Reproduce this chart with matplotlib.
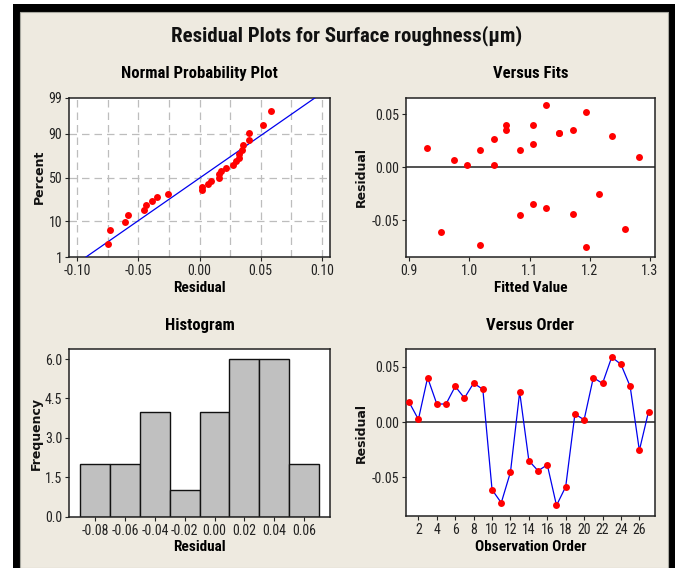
import numpy as np
import matplotlib
matplotlib.use("Agg")
import matplotlib.pyplot as plt
from matplotlib.patches import Rectangle
from matplotlib import font_manager
from statistics import NormalDist

# ---------------- data ----------------
residuals = [0.0178, 0.0024, 0.0401, 0.0163, 0.0163, 0.0322, 0.0217, 0.0352, 0.0295,
             -0.0611, -0.0729, -0.0452, 0.0271, -0.0349, -0.0440, -0.0386, -0.0753, -0.0584,
             0.0072, 0.0021, 0.0401, 0.0349, 0.0587, 0.0521, 0.0322, -0.0256, 0.0095]
fitted = [0.930, 0.996, 1.061, 1.018, 1.084, 1.149, 1.106, 1.061, 1.2375,
          0.953, 1.018, 1.084, 1.0405, 1.106, 1.172, 1.127, 1.193, 1.258,
          0.975, 1.0405, 1.106, 1.172, 1.127, 1.193, 1.149, 1.215, 1.281]
order = list(range(1, 28))
hist_edges = [-0.09, -0.07, -0.05, -0.03, -0.01, 0.01, 0.03, 0.05, 0.07]
npp_pct_ticks = [1, 10, 50, 90, 99]
npp_x_ticks = [-0.10, -0.05, 0.00, 0.05, 0.10]
hist_x_ticks = [-0.08, -0.06, -0.04, -0.02, 0.00, 0.02, 0.04, 0.06]
hist_y_ticks = [0.0, 1.5, 3.0, 4.5, 6.0]
fits_x_ticks = [0.9, 1.0, 1.1, 1.2, 1.3]
res_y_ticks = [-0.05, 0.00, 0.05]
order_x_ticks = list(range(2, 27, 2))

# ---------------- fonts ----------------
names = {f.name for f in font_manager.fontManager.ttflist}
scale = 1.0
if "Roboto Condensed" in names:
    FAM = ["Roboto Condensed", "DejaVu Sans"]
elif "Liberation Sans Narrow" in names:
    FAM = ["Liberation Sans Narrow", "DejaVu Sans"]
else:
    FAM = ["Liberation Sans", "DejaVu Sans"]
    scale = 0.92
plt.rcParams["font.family"] = FAM

W, H = 679, 568
fig = plt.figure(figsize=(W / 100, H / 100), dpi=100, facecolor="white")

def px_rect(l, t, r, b):
    return [l / W, 1 - b / H, (r - l) / W, (b - t) / H]

# frame
fig.patches.append(Rectangle((13 / W, 0), (675 - 13) / W, (568 - 4) / H,
                             transform=fig.transFigure, facecolor="black", edgecolor="none", zorder=-20))
fig.patches.append(Rectangle((20 / W, 0.5 / H), (668 - 20) / W, (567 - 11) / H,
                             transform=fig.transFigure, facecolor="#EEEAE0", edgecolor="#A8A8A0",
                             linewidth=0.8, zorder=-19))

fig.text(347 / W, 1 - 36 / H, "Residual Plots for Surface roughness(μm)",
         ha="center", va="center", fontsize=15 * scale, fontweight="bold", color="#111111")

TICK_FS = 10 * scale
LAB_FS = 11 * scale
TIT_FS = 12 * scale
YLAB_FS = 9

def style(ax):
    ax.set_facecolor("white")
    for s in ax.spines.values():
        s.set_linewidth(1.1)
        s.set_color("#222222")
    ax.tick_params(direction="out", length=3, width=0.8, labelsize=TICK_FS, colors="#222222", pad=2)

def ylab(text, x, y):
    fig.text(x / W, 1 - y / H, text, rotation=90, ha="center", va="center",
             fontsize=YLAB_FS, fontweight="bold", family=["DejaVu Sans"], color="#111111")

res = np.array(residuals)
n = len(res)
nd = NormalDist()

# ---------------- Normal probability plot ----------------
ax1 = fig.add_axes(px_rect(69.3, 97.7, 330, 257.3))
style(ax1)
zlo, zhi = nd.inv_cdf(0.01), nd.inv_cdf(0.99)
xs = np.sort(res)
zs = [nd.inv_cdf((i + 1 - 0.3) / (n + 0.4)) for i in range(n)]
mu, sd = res.mean(), res.std(ddof=1)
ax1.plot([mu + sd * zlo, mu + sd * zhi], [zlo, zhi], color="#0000EE", lw=0.9, zorder=3)
ax1.plot(xs, zs, "o", color="#FF0000", ms=5, mec="none", zorder=4)
ax1.set_ylim(zlo, zhi)
ax1.set_xlim(-0.1066, 0.1068)
ax1.set_xticks(npp_x_ticks)
ax1.set_xticklabels([f"{v:.2f}" for v in npp_x_ticks])
ax1.set_yticks([nd.inv_cdf(p / 100) for p in npp_pct_ticks])
ax1.set_yticklabels([str(p) for p in npp_pct_ticks])
for gx in np.arange(-0.10, 0.1001, 0.025):
    ax1.axvline(gx, color="#BDBDBD", lw=0.9, ls=(0, (6, 4)), zorder=1)
for p in [10, 50, 90]:
    ax1.axhline(nd.inv_cdf(p / 100), color="#BDBDBD", lw=0.9, ls=(0, (6, 4)), zorder=1)
ax1.set_title("Normal Probability Plot", fontsize=TIT_FS, fontweight="bold", pad=14)
ax1.set_xlabel("Residual", fontsize=LAB_FS, fontweight="bold", labelpad=2)
ylab("Percent", 39, 177)

# ---------------- Versus fits ----------------
ax2 = fig.add_axes(px_rect(405.7, 97.7, 655, 257.3))
style(ax2)
ax2.axhline(0, color="#333333", lw=1.2, zorder=1)
ax2.plot(fitted, residuals, "o", color="#FF0000", ms=5, mec="none", zorder=4)
ax2.set_xlim(0.8945, 1.3083)
ax2.set_ylim(-0.0849, 0.0657)
ax2.set_xticks(fits_x_ticks)
ax2.set_xticklabels([f"{v:.1f}" for v in fits_x_ticks])
ax2.set_yticks(res_y_ticks)
ax2.set_yticklabels([f"{v:.2f}" for v in res_y_ticks])
ax2.set_title("Versus Fits", fontsize=TIT_FS, fontweight="bold", pad=14)
ax2.set_xlabel("Fitted Value", fontsize=LAB_FS, fontweight="bold", labelpad=2)
ylab("Residual", 361, 177)

# ---------------- Histogram ----------------
ax3 = fig.add_axes(px_rect(69.3, 349.3, 330, 516.7))
style(ax3)
ax3.hist(res, bins=hist_edges, color="#C0C0C0", edgecolor="#111111", linewidth=1.0, zorder=2)
ax3.set_xlim(-0.0974, 0.0774)
ax3.set_ylim(0, 6.37)
ax3.set_xticks(hist_x_ticks)
ax3.set_xticklabels([f"{v:.2f}" for v in hist_x_ticks])
ax3.set_yticks(hist_y_ticks)
ax3.set_yticklabels([f"{v:.1f}" for v in hist_y_ticks])
ax3.set_title("Histogram", fontsize=TIT_FS, fontweight="bold", pad=14)
ax3.set_xlabel("Residual", fontsize=LAB_FS, fontweight="bold", labelpad=2)
ylab("Frequency", 36, 433)

# ---------------- Versus order ----------------
ax4 = fig.add_axes(px_rect(405.7, 349.3, 655, 516.2))
style(ax4)
ax4.axhline(0, color="#333333", lw=1.2, zorder=1)
ax4.plot(order, residuals, "-", color="#0000EE", lw=0.9, zorder=3)
ax4.plot(order, residuals, "o", color="#FF0000", ms=5, mec="none", zorder=4)
ax4.set_xlim(0.62, 27.7)
ax4.set_ylim(-0.085, 0.0657)
ax4.set_xticks(order_x_ticks)
ax4.set_yticks(res_y_ticks)
ax4.set_yticklabels([f"{v:.2f}" for v in res_y_ticks])
ax4.set_title("Versus Order", fontsize=TIT_FS, fontweight="bold", pad=14)
ax4.set_xlabel("Observation Order", fontsize=LAB_FS, fontweight="bold", labelpad=2)
ylab("Residual", 361, 433)

fig.savefig("out.png", dpi=100, facecolor="white")
